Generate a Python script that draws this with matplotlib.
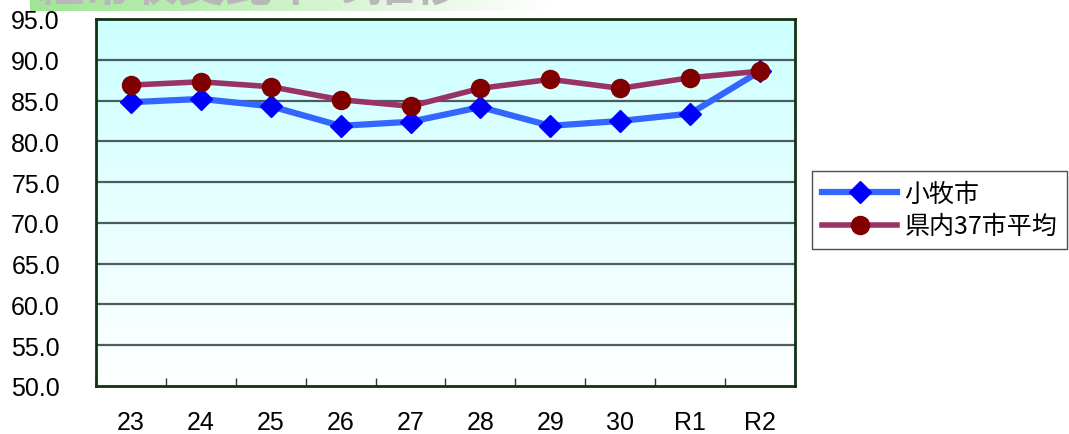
import numpy as np
import matplotlib.pyplot as plt
from matplotlib.lines import Line2D

years = ['23', '24', '25', '26', '27', '28', '29', '30', 'R1', 'R2']
komaki = [84.8, 85.2, 84.3, 81.9, 82.4, 84.2, 81.9, 82.5, 83.4, 88.6]
ken_avg = [86.9, 87.3, 86.7, 85.1, 84.3, 86.5, 87.6, 86.5, 87.8, 88.6]
yticks = [50, 55, 60, 65, 70, 75, 80, 85, 90, 95]

plt.rcParams['font.family'] = ['Liberation Sans', 'Noto Sans CJK JP', 'DejaVu Sans']

fig = plt.figure(figsize=(10.69, 4.35), dpi=100)
ax = fig.add_axes([96/1069, 1-387/435, (795-96)/1069, (387-20)/435])

# background gradient, cyan at top to white at bottom
grad = np.linspace(0, 1, 256).reshape(-1, 1)
top = np.array([0.80, 1.0, 1.0])
bot = np.array([1.0, 1.0, 1.0])
img = bot + (top - bot) * grad
ax.imshow(img[:, None, :].repeat(2, axis=1), extent=[0, 1, 0, 1], transform=ax.transAxes,
          origin='lower', aspect='auto', zorder=0)

x = np.arange(len(years))
for v in yticks[1:-1]:
    ax.axhline(v, color='#4d5c5c', lw=1.6, zorder=1)

ax.plot(x, komaki, color='#3366ff', lw=4.5, marker='D', ms=11, mfc='#0000ff', mec='#0000ff',
        zorder=3, label='小牧市')
ax.plot(x, ken_avg, color='#993366', lw=4, marker='o', ms=13, mfc='#800000', mec='#800000',
        zorder=4, label='県内37市平均')

ax.set_xlim(-0.5, len(years) - 0.5)
ax.set_ylim(50, 95)
ax.set_yticks(yticks)
ax.set_yticklabels([f'{v:.1f}' for v in yticks], fontsize=18)
ax.set_xticks(x)
ax.set_xticklabels(years, fontsize=18)
ax.tick_params(axis='y', length=0, pad=26)
ax.tick_params(axis='x', length=0, pad=17)
# boundary ticks on x axis
ax.set_xticks(np.arange(len(years) + 1) - 0.5, minor=True)
ax.tick_params(axis='x', which='minor', direction='in', length=6, width=1, color='#333333')

for s in ax.spines.values():
    s.set_color('#0f3310')
    s.set_linewidth(2)

handles = [
    Line2D([], [], color='#3366ff', lw=4.5, marker='D', ms=11, mfc='#0000ff', mec='#0000ff'),
    Line2D([], [], color='#993366', lw=4, marker='o', ms=13, mfc='#800000', mec='#800000'),
]
leg = fig.legend(handles, ['小牧市', '県内37市平均'], loc='upper left',
                 bbox_to_anchor=(812/1069, 1-172/435), prop={'family': ['Noto Sans CJK JP'], 'size': 18},
                 frameon=True, fancybox=False, handlelength=3.0, borderpad=0.4,
                 labelspacing=0.25, handletextpad=0.3, borderaxespad=0)
leg.get_frame().set_edgecolor('#222222')
leg.get_frame().set_linewidth(1)

# cropped title strip at the top
tax = fig.add_axes([30/1069, 1-12/435, 520/1069, 12/435])
tg = np.linspace(0, 1, 256)
strip = np.ones((2, 256, 3))
strip[:, :, 0] = 0.62 + 0.38 * tg
strip[:, :, 1] = 0.90 + 0.10 * tg
strip[:, :, 2] = 0.58 + 0.42 * tg
tax.imshow(strip, extent=[0, 1, 0, 1], aspect='auto')
tax.axis('off')
fig.text(36/1069, 1-10/435, '経常収支比率の推移', fontsize=34, color='#b8b8b8',
         family=['Noto Sans CJK JP'], fontweight='bold', va='bottom')

fig.savefig('out.png', dpi=100, facecolor='white')
